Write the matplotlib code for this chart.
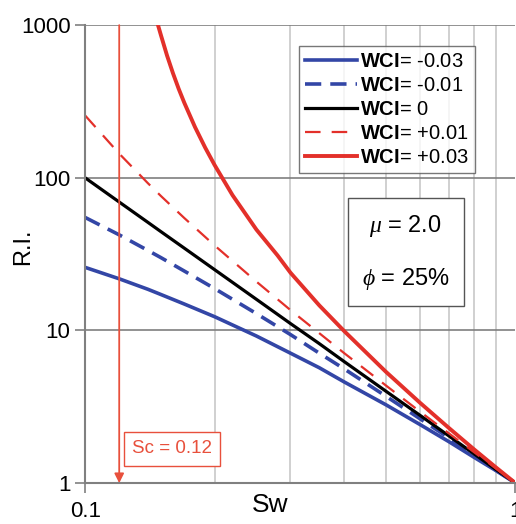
import matplotlib
matplotlib.use("Agg")
import matplotlib.pyplot as plt

plt.rcParams['font.family'] = ['Liberation Sans', 'DejaVu Sans']
plt.rcParams['mathtext.fontset'] = 'custom'
plt.rcParams['mathtext.bf'] = 'Liberation Sans:bold'
plt.rcParams['mathtext.it'] = 'Liberation Serif:italic'

# water saturation values
sw = [0.1, 0.12, 0.14, 0.15, 0.17, 0.2, 0.25, 0.3, 0.35, 0.4, 0.5, 0.6, 0.7, 0.8, 0.9, 1.0]
ri_m003 = [25.9, 21.8, 18.6, 17.2, 14.9, 12.3, 9.2, 7.1, 5.7, 4.6, 3.26, 2.42, 1.87, 1.48, 1.21, 1.0]
ri_m001 = [55, 42.3, 33.4, 30.0, 24.5, 18.8, 12.9, 9.4, 7.1, 5.6, 3.71, 2.64, 1.98, 1.53, 1.22, 1.0]
ri_0 = [100, 69.4, 51.0, 44.4, 34.6, 25, 16, 11.1, 8.2, 6.25, 4.0, 2.78, 2.04, 1.56, 1.23, 1.0]
ri_p001 = [256, 144, 92, 76, 54.5, 36, 20.9, 13.6, 9.6, 7.1, 4.36, 2.94, 2.12, 1.60, 1.25, 1.0]

sw_hi = [0.14, 0.145, 0.15, 0.155, 0.16, 0.165, 0.17, 0.18, 0.19, 0.2, 0.22, 0.25, 0.28, 0.3, 0.35, 0.4, 0.5, 0.6, 0.7, 0.8, 0.9, 1.0]
ri_p003 = [1936, 1195, 860, 632, 484, 382, 310, 215, 158, 121, 77, 45.8, 31.0, 23.9, 14.6, 9.9, 5.36, 3.36, 2.30, 1.67, 1.27, 1.0]

labels = ["-0.03", "-0.01", "0", "+0.01", "+0.03"]
sc = 0.12

blue = "#3346a6"
red = "#e3302a"

fig = plt.figure(figsize=(5.16, 5.24), dpi=100)
ax = fig.add_axes([0.165, 0.078, 0.834, 0.874])
ax.set_xscale("log")
ax.set_yscale("log")
ax.set_xlim(0.1, 1)
ax.set_ylim(1, 1000)

# grid
for x in [0.2, 0.3, 0.4, 0.5, 0.6, 0.7, 0.8, 0.9]:
    ax.axvline(x, color="#c8c8c8", lw=1.2, zorder=0)
for y in [10, 100, 1000]:
    ax.axhline(y, color="#7f7f7f", lw=1.2, zorder=0)

ax.plot(sw, ri_m003, color=blue, lw=2.6, label=r"$\mathbf{WCI}$= " + labels[0])
ax.plot(sw, ri_m001, color=blue, lw=2.6, ls=(0, (4.5, 2.5)), label=r"$\mathbf{WCI}$= " + labels[1])
ax.plot(sw, ri_0, color="black", lw=2.3, label=r"$\mathbf{WCI}$= " + labels[2])
ax.plot(sw, ri_p001, color=red, lw=1.6, ls=(0, (7, 5)), label=r"$\mathbf{WCI}$= " + labels[3])
ax.plot(sw_hi, ri_p003, color=red, lw=2.8, label=r"$\mathbf{WCI}$= " + labels[4])

# Sc arrow
ax.annotate("", xy=(sc, 1), xytext=(sc, 1000),
            arrowprops=dict(arrowstyle="-|>", color="#e8503c", lw=1.3, mutation_scale=14,
                            shrinkA=0, shrinkB=0))
ax.text(0.1285, 1.68, "Sc = 0.12", color="#e8503c", fontsize=13.5, ha="left", va="center",
        bbox=dict(boxstyle="square,pad=0.45", fc="white", ec="#e8503c", lw=1))

ax.text(0.745, 0.504, "$\\mu$ = 2.0\n\n$\\phi$ = 25%", transform=ax.transAxes, fontsize=17,
        ha="center", va="center", linespacing=1.15,
        bbox=dict(boxstyle="square,pad=0.6", fc="white", ec="#555555", lw=1))

leg = ax.legend(loc="upper left", bbox_to_anchor=(0.497, 0.955), fontsize=14.5, frameon=True,
                fancybox=False, edgecolor="#555555", handlelength=2.6, handletextpad=0.15,
                labelspacing=0.25, borderpad=0.3, borderaxespad=0)
leg.get_frame().set_linewidth(1)

for s in ["top", "right"]:
    ax.spines[s].set_visible(False)
for s in ["left", "bottom"]:
    ax.spines[s].set_color("#808080")
    ax.spines[s].set_linewidth(1.5)

ax.set_yticks([1, 10, 100, 1000])
ax.set_yticklabels(["1", "10", "100", "1000"])
ax.yaxis.set_minor_locator(matplotlib.ticker.NullLocator())
ax.set_xticks([0.1, 1])
ax.set_xticklabels(["0.1", "1"])
ax.xaxis.set_minor_locator(matplotlib.ticker.NullLocator())
ax.tick_params(axis="both", labelsize=16, color="#808080", length=7, width=1.2)
ax.tick_params(axis="x", pad=6)

ax.text(0.43, -0.022, "Sw", transform=ax.transAxes, fontsize=19, ha="center", va="top")
fig.text(0.045, 0.53, "R.I.", rotation=90, fontsize=17, ha="center", va="center")

fig.savefig("out.png", dpi=100)
